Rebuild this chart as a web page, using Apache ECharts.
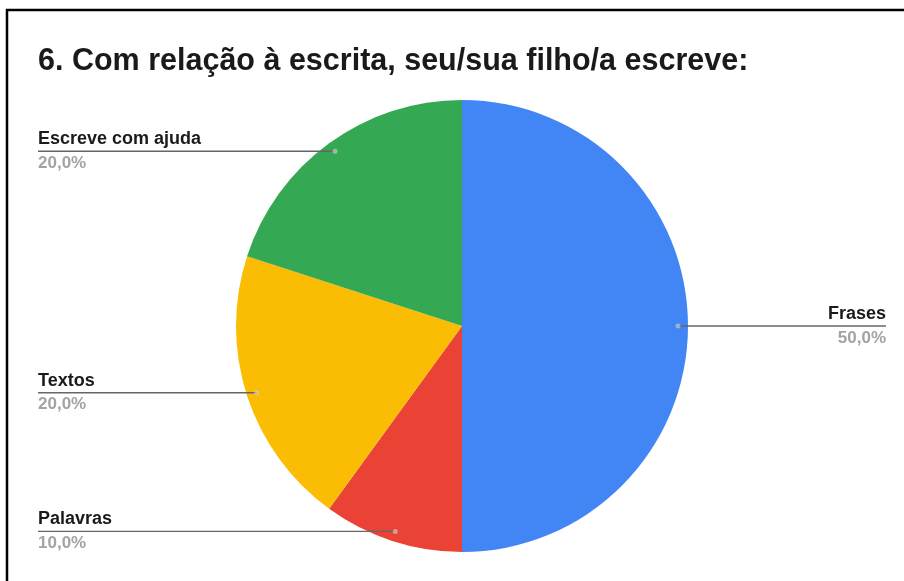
<!DOCTYPE html>
<html>
<head>
<meta charset="utf-8">
<style>
  html, body { margin: 0; padding: 0; background: #fff; }
  #chart { width: 904px; height: 581px; }
</style>
<script src="https://cdn.jsdelivr.net/npm/echarts@6/dist/echarts.min.js"></script>
</head>
<body>
<div id="chart"></div>
<script>
// Respostas à pergunta 6 (percentual de respostas)
const categories = ['Frases', 'Palavras', 'Textos', 'Escreve com ajuda'];
const values = [50, 10, 20, 20];
const colors = ['#4285F4', '#EA4335', '#FBBC04', '#34A853'];
const titleText = '6. Com relação à escrita, seu/sua filho/a escreve:';

const FONT = "'Liberation Sans', Arial, sans-serif";
const CX = 462, CY = 326, R = 226, R_DOT = 216;

const total = values.reduce((a, b) => a + b, 0);
const fmtPct = v => (v / total * 100).toFixed(1).replace('.', ',') + '%';

const pieData = categories.map((name, i) => ({
  name, value: values[i], itemStyle: { color: colors[i] }
}));

// marcador no meio de cada fatia, na ponta da linha do rótulo
let acc = 0;
const dotData = values.map(v => {
  const mid = acc + v / 2;
  acc += v;
  return [R_DOT, mid / total * 100];
});

const chart = echarts.init(document.getElementById('chart'), null, { renderer: 'canvas' });
chart.setOption({
  animation: false,
  backgroundColor: '#fff',
  title: {
    text: titleText,
    left: 33,
    top: 41,
    textStyle: {
      fontFamily: FONT,
      fontSize: 30.5,
      fontWeight: 'bold',
      color: '#1a1a1a'
    }
  },
  graphic: [
    { type: 'line', shape: { x1: 6, y1: 10, x2: 904, y2: 10 }, style: { stroke: '#000', lineWidth: 2.5 } },
    { type: 'line', shape: { x1: 7, y1: 9, x2: 7, y2: 581 }, style: { stroke: '#000', lineWidth: 2.5 } }
  ],
  polar: { center: [CX, CY], radius: R },
  angleAxis: { type: 'value', min: 0, max: 100, startAngle: 90, clockwise: true, show: false },
  radiusAxis: { type: 'value', min: 0, max: R, show: false },
  series: [
    {
      type: 'pie',
      center: [CX, CY],
      radius: R,
      startAngle: 90,
      clockwise: true,
      label: { show: false },
      labelLine: { show: false },
      emphasis: { disabled: true },
      data: pieData,
      z: 1
    },
    {
      // série transparente só para posicionar os rótulos e as linhas
      type: 'pie',
      left: 38,
      right: 18,
      top: 0,
      bottom: 0,
      center: [CX - 38, CY],
      radius: R_DOT,
      startAngle: 90,
      clockwise: true,
      silent: true,
      emphasis: { disabled: true },
      itemStyle: { color: 'rgba(0,0,0,0)' },
      label: {
        show: true,
        position: 'outside',
        alignTo: 'edge',
        edgeDistance: 0,
        formatter: p => '{n|' + p.name + '}\n{v|' + fmtPct(p.value) + '}',
        rich: {
          n: { fontFamily: FONT, fontSize: 18, fontWeight: 'bold', color: '#1a1a1a', lineHeight: 24 },
          v: { fontFamily: FONT, fontSize: 17, fontWeight: 'bold', color: '#a3a3a3', lineHeight: 24 }
        }
      },
      labelLine: {
        show: true,
        length: 0,
        length2: 10,
        lineStyle: { color: '#666', width: 1.3 }
      },
      labelLayout: function (params) {
        const isLeft = params.labelRect.x < 904 / 2;
        const points = params.labelLinePoints;
        points[2][0] = isLeft ? params.labelRect.x : params.labelRect.x + params.labelRect.width;
        return { labelLinePoints: points };
      },
      data: pieData.map(d => ({ name: d.name, value: d.value })),
      z: 2
    },
    {
      type: 'scatter',
      coordinateSystem: 'polar',
      symbolSize: 5,
      silent: true,
      itemStyle: { color: 'rgba(210,210,210,0.75)' },
      data: dotData,
      z: 3
    }
  ]
});
</script>
</body>
</html>
